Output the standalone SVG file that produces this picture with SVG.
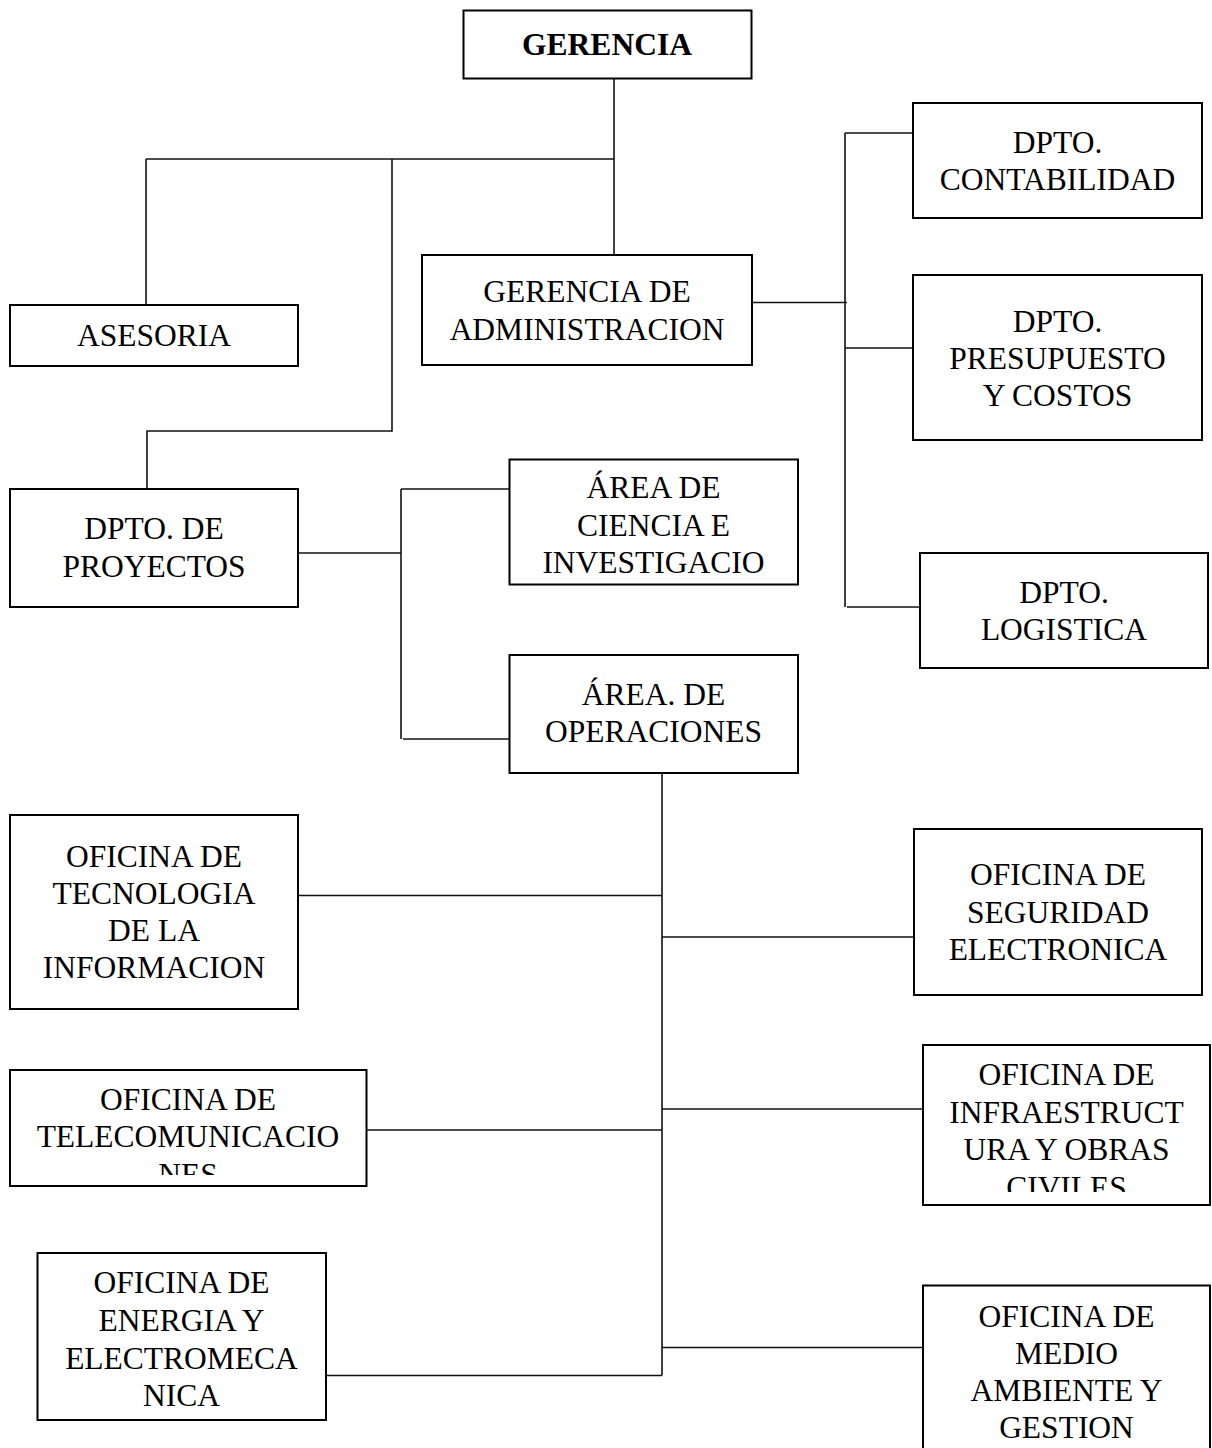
<svg xmlns="http://www.w3.org/2000/svg" width="1212" height="1448" viewBox="0 0 1212 1448">
<style>
.box{fill:#fff;stroke:#000;stroke-width:2}
.t{font-family:"Liberation Serif","Times New Roman",serif;font-size:31.5px;fill:#000;text-anchor:middle}
.b{font-weight:bold}
.c{fill:none;stroke:#111;stroke-width:1.6}
</style>
<defs>
<clipPath id="clipTel"><rect x="10" y="1070" width="356" height="105"/></clipPath>
<clipPath id="clipInf"><rect x="923" y="1045" width="287" height="147"/></clipPath>
</defs>
<rect width="1212" height="1448" fill="#fff"/>
<g id="connectors">
<path class="c" d="M614 79V255"/>
<path class="c" d="M146 159H614"/>
<path class="c" d="M146 159V305"/>
<path class="c" d="M392 159V431H147V489"/>
<path class="c" d="M752 302.5H847"/>
<path class="c" d="M845 133V607"/>
<path class="c" d="M845 133H913"/>
<path class="c" d="M845 348H913"/>
<path class="c" d="M847 607H920"/>
<path class="c" d="M298 553H401"/>
<path class="c" d="M401 489V739"/>
<path class="c" d="M401 489H509"/>
<path class="c" d="M403 739H509"/>
<path class="c" d="M662 773V1375.5"/>
<path class="c" d="M298 895.5H662"/>
<path class="c" d="M662 937H914"/>
<path class="c" d="M367 1130H662"/>
<path class="c" d="M662 1109H923"/>
<path class="c" d="M326 1375.5H662"/>
<path class="c" d="M662 1347.5H923"/>
</g>
<g id="gerencia">
<rect class="box" x="463.5" y="10.5" width="288" height="68"/>
<text class="t b" x="607" y="55">GERENCIA</text>
</g>
<g id="asesoria">
<rect class="box" x="10" y="305" width="288" height="61"/>
<text class="t" x="154" y="345.5">ASESORIA</text>
</g>
<g id="gerencia-admin">
<rect class="box" x="422" y="255" width="330" height="110"/>
<text class="t" x="587" y="302">GERENCIA DE</text>
<text class="t" x="587" y="340">ADMINISTRACION</text>
</g>
<g id="dpto-contabilidad">
<rect class="box" x="913" y="103" width="289" height="115"/>
<text class="t" x="1057.5" y="152.5">DPTO.</text>
<text class="t" x="1057.5" y="190">CONTABILIDAD</text>
</g>
<g id="dpto-presupuesto">
<rect class="box" x="913" y="275" width="289" height="165"/>
<text class="t" x="1057.5" y="331.5">DPTO.</text>
<text class="t" x="1057.5" y="368.5">PRESUPUESTO</text>
<text class="t" x="1057.5" y="405.5">Y COSTOS</text>
</g>
<g id="dpto-logistica">
<rect class="box" x="920" y="553" width="288" height="115"/>
<text class="t" x="1064" y="603">DPTO.</text>
<text class="t" x="1064" y="640">LOGISTICA</text>
</g>
<g id="dpto-proyectos">
<rect class="box" x="10" y="489" width="288" height="118"/>
<text class="t" x="154" y="539">DPTO. DE</text>
<text class="t" x="154" y="577">PROYECTOS</text>
</g>
<g id="area-ciencia">
<rect class="box" x="509.5" y="459.5" width="288.5" height="125"/>
<text class="t" x="653.5" y="498">ÁREA DE</text>
<text class="t" x="653.5" y="535.5">CIENCIA E</text>
<text class="t" x="653.5" y="573">INVESTIGACIO</text>
</g>
<g id="area-operaciones">
<rect class="box" x="509.5" y="655" width="288.5" height="118"/>
<text class="t" x="653.5" y="705">ÁREA. DE</text>
<text class="t" x="653.5" y="742">OPERACIONES</text>
</g>
<g id="of-tecnologia">
<rect class="box" x="10" y="815" width="288" height="194"/>
<text class="t" x="154" y="866.5">OFICINA DE</text>
<text class="t" x="154" y="903.5">TECNOLOGIA</text>
<text class="t" x="154" y="941">DE LA</text>
<text class="t" x="154" y="978">INFORMACION</text>
</g>
<g id="of-seguridad">
<rect class="box" x="914" y="829" width="288" height="166"/>
<text class="t" x="1058" y="885">OFICINA DE</text>
<text class="t" x="1058" y="922.5">SEGURIDAD</text>
<text class="t" x="1058" y="960">ELECTRONICA</text>
</g>
<g id="of-telecomunicaciones">
<rect class="box" x="10" y="1070" width="356.5" height="116"/>
<g clip-path="url(#clipTel)">
<text class="t" x="188" y="1109.5">OFICINA DE</text>
<text class="t" x="188" y="1147">TELECOMUNICACIO</text>
<text class="t" x="188" y="1184.5">NES</text>
</g>
</g>
<g id="of-infraestructura">
<rect class="box" x="923" y="1045" width="287" height="160"/>
<g clip-path="url(#clipInf)">
<text class="t" x="1066.5" y="1085">OFICINA DE</text>
<text class="t" x="1066.5" y="1122.5">INFRAESTRUCT</text>
<text class="t" x="1066.5" y="1160">URA Y OBRAS</text>
<text class="t" x="1066.5" y="1197.5">CIVILES</text>
</g>
</g>
<g id="of-energia">
<rect class="box" x="37.5" y="1253" width="288.5" height="167"/>
<text class="t" x="181.5" y="1293">OFICINA DE</text>
<text class="t" x="181.5" y="1331">ENERGIA Y</text>
<text class="t" x="181.5" y="1368.5">ELECTROMECA</text>
<text class="t" x="181.5" y="1406">NICA</text>
</g>
<g id="of-medio-ambiente">
<rect class="box" x="923" y="1285.5" width="287" height="180"/>
<text class="t" x="1066.5" y="1326.5">OFICINA DE</text>
<text class="t" x="1066.5" y="1364">MEDIO</text>
<text class="t" x="1066.5" y="1401">AMBIENTE Y</text>
<text class="t" x="1066.5" y="1438">GESTION</text>
</g>
</svg>
